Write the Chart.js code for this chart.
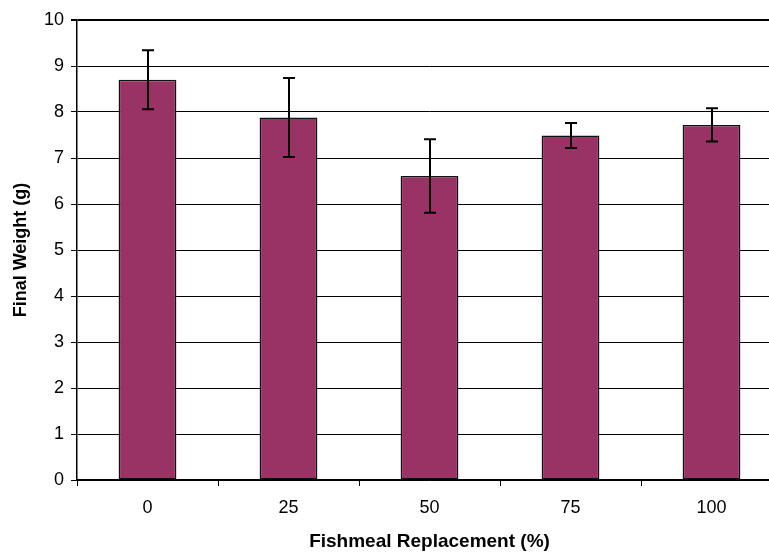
<!DOCTYPE html>
<html>
<head>
<meta charset="utf-8">
<script src="https://cdn.jsdelivr.net/npm/chart.js@4"></script>
<style>
  html, body { margin: 0; padding: 0; background: #fff; overflow: hidden; }
  #wrap { width: 782px; height: 553px; }
</style>
</head>
<body>
<div id="wrap"><canvas id="chart"></canvas></div>
<script>
/* data */
const replacement = ['0', '25', '50', '75', '100'];
const finalWeight = [8.70, 7.88, 6.61, 7.49, 7.72];
const weightSD = [0.64, 0.86, 0.80, 0.27, 0.36];
const yTicks = [0, 1, 2, 3, 4, 5, 6, 7, 8, 9, 10];

const FONT = "'Liberation Sans', Arial, sans-serif";

/* error bars drawn through the y scale */
const errorBars = {
  id: 'errorBars',
  afterDatasetsDraw(chart) {
    const ctx = chart.ctx;
    const y = chart.scales.y;
    const meta = chart.getDatasetMeta(0);
    ctx.save();
    ctx.strokeStyle = '#000';
    ctx.lineWidth = 2;
    meta.data.forEach((bar, i) => {
      const v = finalWeight[i], e = weightSD[i];
      const top = y.getPixelForValue(v + e);
      const bot = y.getPixelForValue(v - e);
      const x = Math.round(bar.x);
      ctx.beginPath();
      ctx.moveTo(x, top); ctx.lineTo(x, bot);
      ctx.moveTo(x - 6, top); ctx.lineTo(x + 6, top);
      ctx.moveTo(x - 6, bot); ctx.lineTo(x + 6, bot);
      ctx.stroke();
    });
    ctx.restore();
  }
};

new Chart(document.getElementById('chart').getContext('2d'), {
  type: 'bar',
  data: {
    labels: replacement,
    datasets: [{
      data: finalWeight,
      backgroundColor: '#993366',
      borderColor: '#111',
      borderWidth: 1.5,
      borderSkipped: false,
      barPercentage: 0.41,
      categoryPercentage: 1
    }]
  },
  options: {
    responsive: true,
    maintainAspectRatio: false,
    animation: false,
    layout: { padding: { top: 20, right: 0, bottom: 0, left: 0 } },
    scales: {
      x: {
        offset: true,
        grid: { offset: true, drawOnChartArea: false, color: '#000', tickLength: 6 },
        border: { color: '#000', width: 1.5 },
        ticks: { color: '#000', font: { family: FONT, size: 18 }, padding: 11 },
        title: {
          display: true, text: 'Fishmeal Replacement (%)', color: '#000',
          font: { family: FONT, size: 19, weight: 'bold' }, padding: { top: 4, bottom: 0 }
        },
        afterFit: s => { s.height = 73; }
      },
      y: {
        min: 0, max: 10,
        afterBuildTicks: s => { s.ticks = yTicks.map(v => ({ value: v })); },
        grid: {
          color: '#000',
          lineWidth: c => (c.tick && c.tick.value === 10 ? 2 : 1),
          tickLength: 6
        },
        border: { color: '#000', width: 1.5 },
        ticks: { color: '#000', font: { family: FONT, size: 18 }, padding: 7 },
        title: {
          display: true, text: 'Final Weight (g)', color: '#000',
          font: { family: FONT, size: 18, weight: 'bold' }, padding: { top: 10 }
        },
        afterFit: s => { s.width = 77; }
      }
    },
    plugins: { legend: { display: false }, tooltip: { enabled: false } }
  },
  plugins: [errorBars]
});
</script>
</body>
</html>
